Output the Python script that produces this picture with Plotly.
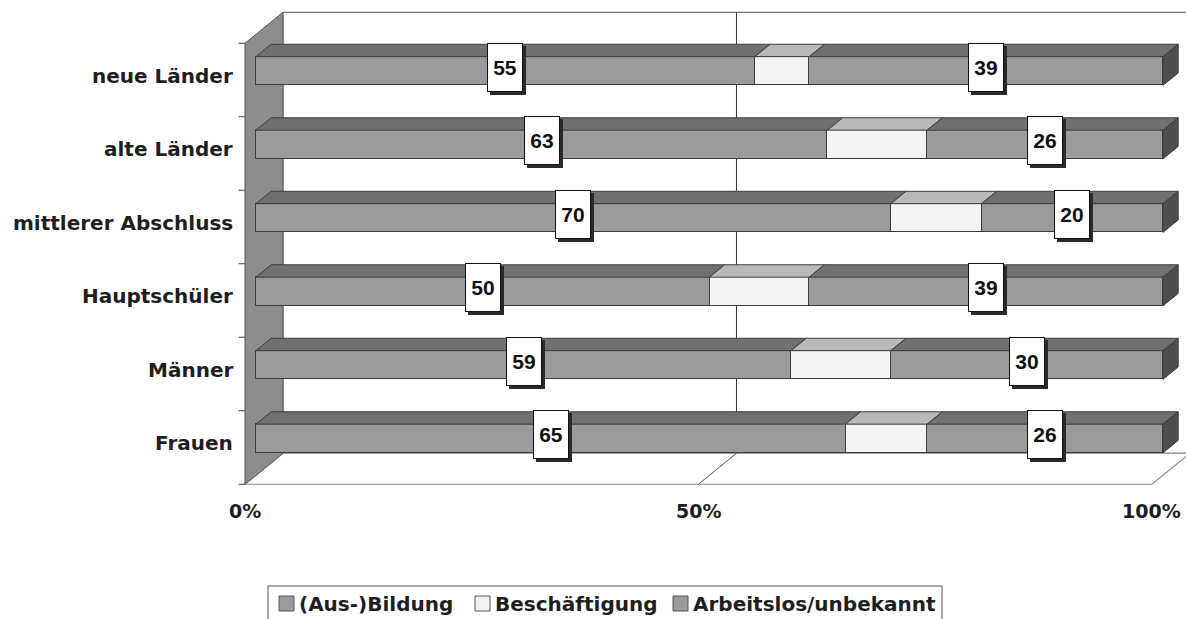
import numpy as np
import plotly.graph_objects as go

# Data (percent of each group)
categories = ["Frauen", "Männer", "Hauptschüler", "mittlerer Abschluss", "alte Länder", "neue Länder"]
bildung = [65, 59, 50, 70, 63, 55]
beschaeftigung = [9, 11, 11, 10, 11, 6]
arbeitslos = [26, 30, 39, 20, 26, 39]
series_names = ["(Aus-)Bildung", "Beschäftigung", "Arbeitslos/unbekannt"]
x_ticks = [0, 50, 100]
x_ticktext = ["0%", "50%", "100%"]

# Canvas and pseudo-3D geometry
W, H = 1186, 619
PX0, PXS = 256, 9.07        # pixel of 0 % and pixels per % on the bar front plane
PY0, PYS = 438.5, 73.5      # pixel of first row centre and pixels per row
DEPTH_PX = (38, 31)         # shift (right, up) from front to back of the box
F0, F1 = 0.29, 0.69         # bar front / back depth inside the box
HB = 0.195                  # half bar thickness (rows)
DXV = DEPTH_PX[0] / PXS
DYH = DEPTH_PX[1] / PYS

FRONT_COL = ["#9b9b9b", "#f3f3f3", "#9b9b9b"]
TOP_COL = ["#707070", "#b9b9b9", "#707070"]
END_COL = "#4e4e4e"
EDGE = "#3c3c3c"
FONT = "DejaVu Sans"


def P(v, h, d):
    """Point in the box (value, row height, depth) -> data coordinates."""
    return v + (d - F0) * DXV, h + (d - F0) * DYH


def path(points):
    return "M " + " L ".join(f"{x:.4f},{y:.4f}" for x, y in points) + " Z"


x_range = [-PX0 / PXS, (W - PX0) / PXS]
y_range = [(PY0 - H) / PYS, PY0 / PYS]

fig = go.Figure()
shapes = []
annotations = []

# Back wall, floor and side wall
top_h, bot_h = len(categories) - 0.5, -0.5
shapes.append(dict(type="path", layer="below",
                   path=path([P(0, bot_h, 1), P(0, top_h, 1), P(110, top_h, 1), P(110, bot_h, 1)]),
                   fillcolor="white", line=dict(color="#555555", width=1)))
shapes.append(dict(type="path", layer="below",
                   path=path([P(0, bot_h, 0), P(100, bot_h, 0), P(100, bot_h, 1), P(0, bot_h, 1)]),
                   fillcolor="white", line=dict(color="#8a8a8a", width=1.2)))
shapes.append(dict(type="path", layer="below",
                   path=path([P(0, bot_h, 0), P(0, top_h, 0), P(0, top_h, 1), P(0, bot_h, 1)]),
                   fillcolor="#8d8d8d", line=dict(color="#5a5a5a", width=1)))
# 50 % gridline on back wall and floor
for v in x_ticks[1:2]:
    x0, y0 = P(v, bot_h, 1)
    x1, y1 = P(v, top_h, 1)
    shapes.append(dict(type="line", layer="below", x0=x0, y0=y0, x1=x1, y1=y1,
                       line=dict(color="#333333", width=1)))
    x2, y2 = P(v, bot_h, 0)
    shapes.append(dict(type="line", layer="below", x0=x2, y0=y2, x1=x0, y1=y0,
                       line=dict(color="#555555", width=1)))
# category tick marks on the front edge of the side wall
for k in range(len(categories) + 1):
    x0, y0 = P(0, bot_h + k, 0)
    shapes.append(dict(type="line", layer="below", x0=x0 - 0.7, y0=y0, x1=x0, y1=y0,
                       line=dict(color="#444444", width=1)))

# Front faces of the stacked bars
values = np.array([bildung, beschaeftigung, arbeitslos], dtype=float)
rows = np.arange(len(categories))
for i, name in enumerate(series_names):
    fig.add_trace(go.Bar(
        y=rows, x=values[i], orientation="h", name=name, width=2 * HB,
        marker=dict(color=FRONT_COL[i], line=dict(color=EDGE, width=1)),
        showlegend=False, hoverinfo="skip"))

# Top faces and right end faces
cum = np.vstack([np.zeros(len(categories)), np.cumsum(values, axis=0)])
for r in rows:
    for i in range(len(series_names)):
        a, b = cum[i, r], cum[i + 1, r]
        shapes.append(dict(type="path", layer="above",
                           path=path([P(a, r + HB, F0), P(b, r + HB, F0), P(b, r + HB, F1), P(a, r + HB, F1)]),
                           fillcolor=TOP_COL[i], line=dict(color=EDGE, width=1)))
    end = cum[-1, r]
    shapes.append(dict(type="path", layer="above",
                       path=path([P(end, r - HB, F0), P(end, r + HB, F0), P(end, r + HB, F1), P(end, r - HB, F1)]),
                       fillcolor=END_COL, line=dict(color=EDGE, width=1)))

# Value labels for the first and last segment
for r in rows:
    for i in (0, 2):
        a, b = cum[i, r], cum[i + 1, r]
        mid = (a + b) / 2
        common = dict(x=mid, y=r + 0.048, xref="x", yref="y", showarrow=False,
                      width=32, height=45, borderpad=1, borderwidth=1,
                      font=dict(family="Liberation Sans", size=21, color="#111111", weight="bold"))
        annotations.append(dict(text=" ", bgcolor="#2a2a2a", bordercolor="#2a2a2a",
                                xshift=3, yshift=-3, **common))
        annotations.append(dict(text=f"{int(values[i, r])}", bgcolor="white",
                                bordercolor="#111111", **common))

# Category labels
for r, c in enumerate(categories):
    annotations.append(dict(x=(235 - PX0) / PXS, y=r - 0.065, xref="x", yref="y",
                            text=c, showarrow=False, xanchor="right", yanchor="middle",
                            font=dict(family=FONT, size=20, color="#1e1e1e", weight="bold")))

# Percentage labels along the front edge of the floor
for v, t in zip(x_ticks, x_ticktext):
    xv, _ = P(v, bot_h, 0)
    annotations.append(dict(x=xv, y=(PY0 - 511) / PYS, xref="x", yref="y", text=t,
                            showarrow=False, xanchor="center", yanchor="middle",
                            font=dict(family=FONT, size=19, color="#1e1e1e", weight="bold")))

# Legend box
def px(x):
    return x / W


def py(y):
    return 1 - y / H


shapes.append(dict(type="rect", xref="paper", yref="paper", x0=px(268), x1=px(942),
                   y0=py(628), y1=py(586), fillcolor="white",
                   line=dict(color="#8c8c8c", width=1.5)))
legend_swatch_x = [279, 475, 673]
for name, sx, col in zip(series_names, legend_swatch_x, FRONT_COL):
    shapes.append(dict(type="rect", xref="paper", yref="paper", x0=px(sx), x1=px(sx + 15),
                       y0=py(611), y1=py(596), fillcolor=col,
                       line=dict(color="#555555", width=1)))
    annotations.append(dict(x=px(sx + 18), y=py(603.5), xref="paper", yref="paper",
                            text=name, showarrow=False, xanchor="left", yanchor="middle",
                            font=dict(family=FONT, size=20, color="#1e1e1e", weight="bold")))

fig.update_layout(
    width=W, height=H, margin=dict(l=0, r=0, t=0, b=0),
    paper_bgcolor="white", plot_bgcolor="white",
    barmode="stack", bargap=0,
    xaxis=dict(range=x_range, visible=False, fixedrange=True),
    yaxis=dict(range=y_range, visible=False, fixedrange=True),
    shapes=shapes, annotations=annotations, showlegend=False,
)

fig.write_html("out.html")
